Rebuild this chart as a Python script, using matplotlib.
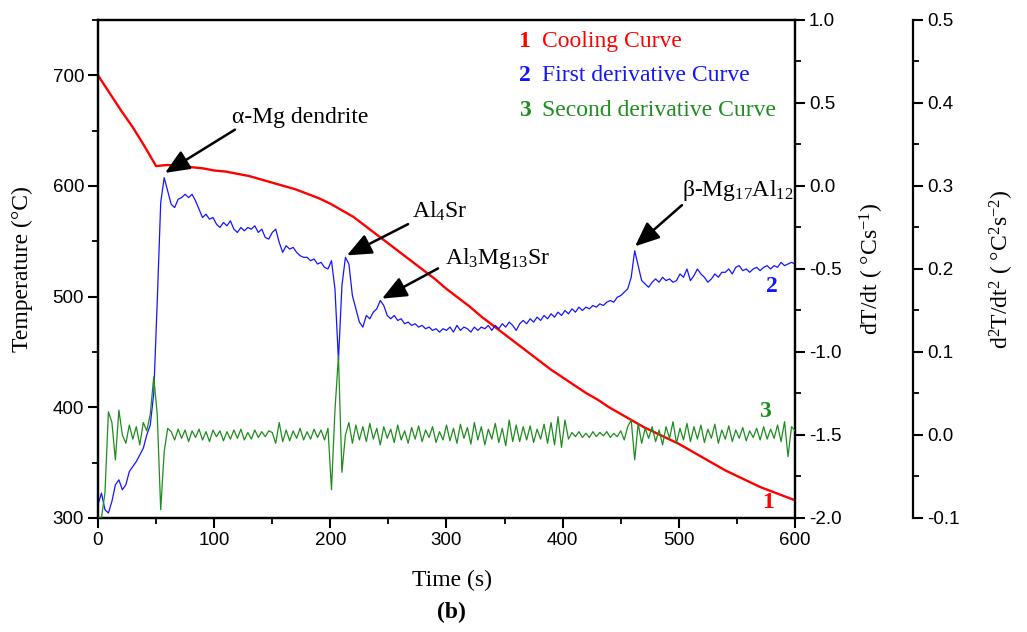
import numpy as np
import matplotlib
matplotlib.use("Agg")
import matplotlib.pyplot as plt
from matplotlib.ticker import MultipleLocator, FormatStrFormatter

plt.rcParams["font.family"] = ["Liberation Sans", "DejaVu Sans"]
plt.rcParams["mathtext.fontset"] = "custom"
plt.rcParams["mathtext.rm"] = "Liberation Serif"
plt.rcParams["mathtext.it"] = "Liberation Serif:italic"
plt.rcParams["mathtext.bf"] = "Liberation Serif:bold"
plt.rcParams["axes.unicode_minus"] = False

SERIF = ["Liberation Serif", "DejaVu Serif"]

# cooling curve, read every 10 s
time_cool = np.arange(0, 601, 10)
temperature = [
    700, 684, 668, 653, 636, 618, 619, 618, 617, 616,
    614, 613, 611, 609, 606, 603, 600, 597, 593, 589,
    584, 578, 572, 564, 556, 548, 540, 532, 524, 516,
    507, 499, 491, 482, 474, 466, 458, 450, 442, 434,
    427, 420, 413, 407, 400, 394, 388, 382, 377, 372,
    367, 361, 355, 349, 343, 338, 333, 328, 324, 320,
    316,
]

# derivative curves, read every 3 s
time_deriv = np.arange(0, 601, 3)
first_deriv = [
    -1.92, -1.85, -1.95, -1.97, -1.90, -1.80, -1.77, -1.83, -1.80, -1.72,
    -1.69, -1.66, -1.62, -1.58, -1.50, -1.44, -1.25, -0.70, -0.10, 0.05,
    -0.03, -0.11, -0.13, -0.08, -0.07, -0.05, -0.07, -0.05, -0.09, -0.14,
    -0.19, -0.17, -0.20, -0.19, -0.23, -0.25, -0.22, -0.24, -0.21, -0.26,
    -0.28, -0.25, -0.27, -0.25, -0.26, -0.24, -0.28, -0.26, -0.31, -0.32,
    -0.28, -0.26, -0.34, -0.40, -0.36, -0.38, -0.37, -0.40, -0.42, -0.43,
    -0.43, -0.45, -0.44, -0.47, -0.46, -0.49, -0.50, -0.45, -0.62, -1.05,
    -0.60, -0.43, -0.47, -0.66, -0.74, -0.82, -0.85, -0.78, -0.80, -0.76,
    -0.74, -0.69, -0.72, -0.78, -0.80, -0.78, -0.81, -0.80, -0.83, -0.82,
    -0.84, -0.83, -0.85, -0.84, -0.86, -0.85, -0.87, -0.86, -0.88, -0.86,
    -0.87, -0.85, -0.88, -0.84, -0.87, -0.85, -0.86, -0.88, -0.85, -0.87,
    -0.85, -0.86, -0.84, -0.87, -0.84, -0.86, -0.83, -0.85, -0.82, -0.84,
    -0.87, -0.83, -0.81, -0.83, -0.80, -0.82, -0.79, -0.81, -0.78, -0.80,
    -0.77, -0.79, -0.76, -0.78, -0.75, -0.77, -0.74, -0.76, -0.73, -0.75,
    -0.73, -0.74, -0.72, -0.73, -0.71, -0.72, -0.70, -0.69, -0.70, -0.67,
    -0.66, -0.64, -0.62, -0.55, -0.39, -0.48, -0.57, -0.59, -0.61, -0.58,
    -0.56, -0.58, -0.55, -0.57, -0.56, -0.58, -0.57, -0.53, -0.55, -0.50,
    -0.57, -0.54, -0.50, -0.53, -0.55, -0.58, -0.56, -0.53, -0.55, -0.52,
    -0.52, -0.50, -0.53, -0.49, -0.48, -0.51, -0.50, -0.52, -0.50, -0.49,
    -0.51, -0.49, -0.48, -0.50, -0.48, -0.49, -0.46, -0.48, -0.47, -0.46,
    -0.47,
]
second_deriv = [
    -0.100, -0.100, -0.070, 0.028, 0.015, -0.030, 0.030, 0.000, -0.010, 0.012,
    -0.005, 0.010, -0.012, 0.015, 0.005, 0.025, 0.070, 0.025, -0.090, -0.020,
    0.008, 0.004, -0.006, 0.007, -0.004, 0.006, -0.008, 0.005, -0.003, 0.007,
    -0.006, 0.004, -0.008, 0.006, -0.002, 0.005, -0.007, 0.004, -0.005, 0.006,
    -0.004, 0.007, -0.006, 0.003, -0.005, 0.006, -0.003, 0.004, -0.002, 0.005,
    0.003, -0.010, 0.015, -0.008, 0.006, -0.007, 0.005, -0.004, 0.008, -0.006,
    0.004, -0.005, 0.007, -0.003, 0.006, -0.006, 0.008, -0.066, 0.030, 0.095,
    -0.045, 0.000, 0.015, -0.010, 0.012, -0.006, 0.010, -0.008, 0.014, -0.005,
    0.008, -0.012, 0.010, -0.004, 0.007, -0.009, 0.012, -0.006, 0.005, -0.010,
    0.009, -0.005, 0.011, -0.008, 0.006, -0.003, 0.010, -0.009, 0.004, -0.006,
    0.012, -0.007, 0.008, -0.010, 0.013, -0.004, 0.009, -0.011, 0.015, -0.006,
    0.010, -0.012, 0.007, -0.005, 0.014, -0.009, 0.008, -0.013, 0.018, -0.008,
    0.012, -0.008, 0.010, -0.006, 0.011, -0.009, 0.007, -0.005, 0.013, -0.010,
    0.015, -0.012, 0.022, -0.015, 0.018, -0.005, 0.003, -0.002, 0.004, -0.003,
    0.002, -0.003, 0.004, -0.002, 0.003, -0.001, 0.004, -0.003, 0.002, -0.002,
    0.005, -0.006, 0.010, 0.018, -0.030, 0.014, -0.010, 0.008, -0.004, 0.010,
    -0.008, 0.006, -0.012, 0.010, -0.004, 0.016, -0.010, 0.008, -0.006, 0.014,
    -0.008, 0.010, -0.005, 0.012, -0.009, 0.007, -0.004, 0.013, -0.010, 0.006,
    -0.005, 0.011, -0.008, 0.006, -0.004, 0.009, -0.007, 0.005, -0.003, 0.008,
    -0.006, 0.010, -0.005, 0.007, -0.004, 0.012, -0.008, 0.016, -0.026, 0.010,
    0.005,
]

legend_items = ["Cooling Curve", "First derivative Curve", "Second derivative Curve"]
RED, BLUE, GREEN = "#ff0000", "#1414ff", "#1e8c1e"

fig = plt.figure(figsize=(10.27, 6.32), dpi=100)
ax = fig.add_axes([0.0954, 0.1804, 0.6787, 0.788])
ax2 = ax.twinx()
ax3 = ax.twinx()

ax.plot(time_cool, temperature, color=RED, lw=1.7)
ax2.plot(time_deriv, first_deriv, color=BLUE, lw=0.9)
ax3.plot(time_deriv, second_deriv, color=GREEN, lw=0.9)

ax.set_xlim(0, 600)
ax.set_ylim(300, 750)
ax2.set_ylim(-2.0, 1.0)
ax3.set_ylim(-0.1, 0.5)

ax.xaxis.set_major_locator(MultipleLocator(100))
ax.xaxis.set_minor_locator(MultipleLocator(50))
ax.yaxis.set_major_locator(MultipleLocator(100))
ax.yaxis.set_minor_locator(MultipleLocator(50))
ax2.yaxis.set_major_locator(MultipleLocator(0.5))
ax2.yaxis.set_minor_locator(MultipleLocator(0.25))
ax2.yaxis.set_major_formatter(FormatStrFormatter("%.1f"))
ax3.yaxis.set_major_locator(MultipleLocator(0.1))
ax3.yaxis.set_minor_locator(MultipleLocator(0.05))
ax3.yaxis.set_major_formatter(FormatStrFormatter("%.1f"))

# third axis sits out to the right
ax3.spines["right"].set_position(("axes", (913 - 98) / 697))
for s in ["top", "left", "bottom"]:
    ax3.spines[s].set_visible(False)
for a in (ax, ax2, ax3):
    for s in a.spines.values():
        s.set_linewidth(1.6)
    a.tick_params(which="major", direction="out", length=7, width=1.5, labelsize=13.5, pad=3)
    a.tick_params(which="minor", direction="out", length=4, width=1.3)

ax.set_xlabel("Time (s)", family=SERIF, fontsize=17)
ax.set_ylabel("Temperature (°C)", family=SERIF, fontsize=17)
ax2.set_ylabel("dT/dt ( °Cs$^{-1}$)", family=SERIF, fontsize=17)
ax3.set_ylabel("d$^2$T/dt$^2$ ( °C$^2$s$^{-2}$)", family=SERIF, fontsize=17)
ax.xaxis.set_label_coords(0.508, -0.104)
ax.yaxis.set_label_coords(-0.093, 0.5)
ax2.yaxis.set_label_coords(1.090, 0.5)
ax3.yaxis.set_label_coords(1.277, 0.5)

fig.text(0.440, 0.0316, "(b)", family=SERIF, fontsize=17, fontweight="bold",
         ha="center", va="center")

# legend written as plain text
for i, (name, col) in enumerate(zip(legend_items, [RED, BLUE, GREEN])):
    y = [0.956, 0.888, 0.819][i]
    ax.text(0.612, y, str(i + 1), transform=ax.transAxes, color=col, family=SERIF,
            fontsize=17, fontweight="bold", ha="center", va="center")
    ax.text(0.637, y, name, transform=ax.transAxes, color=col, family=SERIF,
            fontsize=17, ha="left", va="center")

# curve numbers at right end
ax.text(0.967, 0.465, "2", transform=ax.transAxes, color=BLUE, family=SERIF,
        fontsize=17, fontweight="bold", ha="center", va="center")
ax.text(0.957, 0.213, "3", transform=ax.transAxes, color=GREEN, family=SERIF,
        fontsize=17, fontweight="bold", ha="center", va="center")
ax.text(0.961, 0.032, "1", transform=ax.transAxes, color=RED, family=SERIF,
        fontsize=17, fontweight="bold", ha="center", va="center")

# phase annotations (time, temperature)
arrow = dict(arrowstyle="-|>,head_length=0.75,head_width=0.32", color="black",
             lw=1.8, mutation_scale=20, shrinkA=0, shrinkB=0)
notes = [
    ("α-Mg dendrite", (115.4, 661.8), (117.9, 650.9), (57.7, 611.8)),
    ("Al$_4$Sr", (270.3, 577.3), (266.9, 565.5), (214.3, 537.3)),
    ("Al$_3$Mg$_{13}$Sr", (298.7, 534.5), (292.7, 525.5), (244.5, 498.2)),
    ("β-Mg$_{17}$Al$_{12}$", (502.7, 595.5), (502.7, 582.7), (462.3, 545.5)),
]
for label, txt_pos, tail, head in notes:
    ax.text(txt_pos[0], txt_pos[1], label, family=SERIF, fontsize=17,
            ha="left", va="center")
    ax.annotate("", xy=head, xytext=tail, arrowprops=arrow)

fig.savefig("out.png", dpi=100)
